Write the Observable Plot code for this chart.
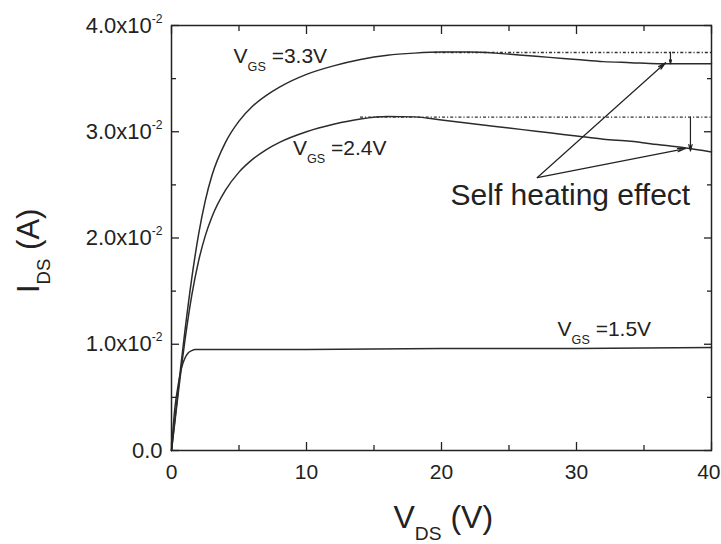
<!DOCTYPE html>
<html><head><meta charset="utf-8">
<script src="https://cdn.jsdelivr.net/npm/d3@7"></script>
<script src="https://cdn.jsdelivr.net/npm/@observablehq/plot@0.6"></script>
<style>
html,body{margin:0;padding:0;background:#fff;}
svg{display:block;}
</style></head><body><div id="chart"></div>
<script>
// ---- data ----
const vds = [0, 0.25, 0.5, 0.75, 1, 1.5, 2, 2.5, 3, 4, 5, 6, 7, 8, 10, 12, 14, 16, 18, 20, 22, 24, 26, 28, 30, 32, 34, 36, 38, 40];
const ids33 = [0, 0.0029, 0.0058, 0.0086, 0.0113, 0.0162, 0.0203, 0.0235, 0.0259, 0.0290, 0.0310, 0.0324, 0.0334, 0.0342, 0.0354, 0.0362, 0.0368, 0.0372, 0.0374, 0.0375, 0.0375, 0.0374, 0.0372, 0.0370, 0.0368, 0.0366, 0.0365, 0.0364, 0.0364, 0.0364];
const ids24 = [0, 0.0027, 0.0054, 0.0080, 0.0104, 0.0146, 0.0178, 0.0202, 0.0220, 0.0245, 0.0262, 0.0274, 0.0283, 0.0290, 0.0300, 0.0307, 0.0312, 0.03143, 0.0314, 0.0311, 0.0308, 0.0305, 0.0302, 0.0299, 0.0296, 0.0293, 0.0291, 0.0288, 0.0285, 0.0281];
const vds15 = [0, 0.1, 0.25, 0.5, 0.75, 1, 1.25, 1.5, 1.75, 2, 2.5, 3, 5, 10, 20, 30, 40];
const ids15 = [0, 0.0018, 0.0040, 0.0062, 0.0078, 0.0087, 0.0092, 0.0094, 0.0095, 0.0095, 0.0095, 0.0095, 0.0095, 0.0095, 0.0096, 0.0096, 0.0097];

const curveLabels = ["V_{GS} =3.3V", "V_{GS} =2.4V", "V_{GS} =1.5V"];
const curveLabelX = [4.6, 9.0, 28.6];
const curveLabelY = [0.0365, 0.0278, 0.0108];

const peakLevel = [0.03746, 0.03137];
const peakStart = [19.5, 14.0];
const peakEnd = [40, 40];

const dropX = [36.96, 38.44];
const dropTop = [0.0375, 0.03137];
const dropBottom = [0.0364, 0.0282];

const noteText = ["Self heating effect"];
const noteX = [20.67];
const noteY = [0.02315];
const noteArrowFromX = [27.1, 27.1];
const noteArrowFromY = [0.02569, 0.02569];
const noteArrowToX = [36.6, 38.07];
const noteArrowToY = [0.0365, 0.02842];

const xMajor = [0, 10, 20, 30, 40];
const xMinor = [5, 15, 25, 35];
const xTickLabels = ["0", "10", "20", "30", "40"];
const yMajor = [0, 0.01, 0.02, 0.03, 0.04];
const yMinor = [0.005, 0.015, 0.025, 0.035];
const yTickLabels = ["0.0", "1.0x10^{-2}", "2.0x10^{-2}", "3.0x10^{-2}", "4.0x10^{-2}"];
const xTitle = "V_{DS} (V)";
const yTitle = "I_{DS} (A)";

// ---- tables built from the arrays ----
const s33 = vds.map((v, k) => ({v, i: ids33[k]}));
const s24 = vds.map((v, k) => ({v, i: ids24[k]}));
const s15 = vds15.map((v, k) => ({v, i: ids15[k]}));
const labels = curveLabels.map((t, k) => ({t, x: curveLabelX[k], y: curveLabelY[k]}));
const peaks = peakLevel.map((y, k) => ({y, x1: peakStart[k], x2: peakEnd[k]}));
const drops = dropX.map((x, k) => ({x, y1: dropTop[k], y2: dropBottom[k]}));
const noteArrows = noteArrowFromX.map((x1, k) => ({x1, y1: noteArrowFromY[k], x2: noteArrowToX[k], y2: noteArrowToY[k]}));
const notes = noteText.map((t, k) => ({t, x: noteX[k], y: noteY[k]}));
const xLabelRows = xMajor.map((x, k) => ({x, t: xTickLabels[k]}));
const xLabelsInner = xLabelRows.slice(0, -1);
const xLabelsLast = xLabelRows.slice(-1);

const ink = "#222";
const lineInk = "#2b2b2b";

const chart = Plot.plot({
  width: 721, height: 544,
  marginLeft: 171, marginRight: 10, marginTop: 25, marginBottom: 94,
  style: {fontFamily: "'Liberation Sans', Arial, Helvetica, sans-serif", background: "#fff", color: ink},
  x: {domain: [0, 40]},
  y: {domain: [0, 0.04]},
  marks: [
    // dotted reference lines at peak currents
    Plot.ruleY(peaks, {y: "y", x1: "x1", x2: "x2", stroke: "#333", strokeWidth: 1.3, strokeDasharray: "3,2,1.2,2"}),
    // curves
    Plot.line(s33, {x: "v", y: "i", curve: "monotone-x", stroke: lineInk, strokeWidth: 1.5}),
    Plot.line(s24, {x: "v", y: "i", curve: "monotone-x", stroke: lineInk, strokeWidth: 1.5}),
    Plot.line(s15, {x: "v", y: "i", curve: "monotone-x", stroke: lineInk, strokeWidth: 1.5}),
    // arrows
    Plot.arrow(drops, {x1: "x", y1: "y1", x2: "x", y2: "y2", stroke: ink, strokeWidth: 1.2, headLength: 8, headAngle: 30}),
    Plot.arrow(noteArrows, {x1: "x1", y1: "y1", x2: "x2", y2: "y2", stroke: ink, strokeWidth: 1.2, headLength: 10, headAngle: 25}),
    // frame and inward ticks
    Plot.frame({stroke: ink, strokeWidth: 1.5}),
    Plot.axisX(xMajor, {anchor: "bottom", tickSize: -8, fill: "none", label: null, stroke: ink, strokeWidth: 1.3}),
    Plot.axisX(xMinor, {anchor: "bottom", tickSize: -5, fill: "none", label: null, stroke: ink, strokeWidth: 1.3}),
    Plot.axisX(xMajor, {anchor: "top", tickSize: -8, fill: "none", label: null, stroke: ink, strokeWidth: 1.3}),
    Plot.axisX(xMinor, {anchor: "top", tickSize: -5, fill: "none", label: null, stroke: ink, strokeWidth: 1.3}),
    Plot.axisY(yMajor, {anchor: "left", tickSize: -8, fill: "none", label: null, stroke: ink, strokeWidth: 1.3}),
    Plot.axisY(yMinor, {anchor: "left", tickSize: -5, fill: "none", label: null, stroke: ink, strokeWidth: 1.3}),
    Plot.axisY(yMajor, {anchor: "right", tickSize: -8, fill: "none", label: null, stroke: ink, strokeWidth: 1.3}),
    Plot.axisY(yMinor, {anchor: "right", tickSize: -5, fill: "none", label: null, stroke: ink, strokeWidth: 1.3}),
    // tick labels
    Plot.text(xLabelsInner, {x: "x", text: "t", frameAnchor: "bottom", dy: 28, lineAnchor: "bottom", fontSize: 21, fill: ink}),
    Plot.text(xLabelsLast, {x: "x", text: "t", frameAnchor: "bottom", dy: 28, dx: 9, textAnchor: "end", lineAnchor: "bottom", fontSize: 21, fill: ink}),
    Plot.text(yMajor, {y: d => d, frameAnchor: "left", dx: -9, textAnchor: "end", lineAnchor: "middle", text: (d, k) => yTickLabels[k], fontSize: 22, fill: ink}),
    // axis titles
    Plot.text([xTitle], {frameAnchor: "bottom", dx: -48, dy: 77, textAnchor: "start", lineAnchor: "bottom", text: d => d, fontSize: 32, fill: ink}),
    Plot.text([yTitle], {frameAnchor: "left", dx: -133, dy: 55, rotate: -90, textAnchor: "start", lineAnchor: "bottom", text: d => d, fontSize: 31, fill: ink}),
    // curve labels and annotation
    Plot.text(labels, {x: "x", y: "y", text: "t", textAnchor: "start", lineAnchor: "bottom", fontSize: 21, fill: ink}),
    Plot.text(notes, {x: "x", y: "y", text: "t", textAnchor: "start", lineAnchor: "bottom", fontSize: 30, fill: ink})
  ]
});

document.getElementById("chart").appendChild(chart);

// turn _{..} and ^{..} markup into real subscript / superscript tspans
chart.querySelectorAll("text").forEach(t => {
  const s = t.textContent;
  if (!/[_^]\{/.test(s)) return;
  const base = parseFloat(getComputedStyle(t).fontSize) || 16;
  while (t.firstChild) t.removeChild(t.firstChild);
  const re = /([_^])\{([^}]*)\}/g;
  let last = 0, m, pending = 0;
  const ns = "http://www.w3.org/2000/svg";
  const add = (str, opts) => {
    if (!str) return;
    const ts = document.createElementNS(ns, "tspan");
    ts.textContent = str;
    let dy = pending;
    if (opts) { dy += opts.shift; ts.setAttribute("font-size", opts.size); }
    if (dy) ts.setAttribute("dy", dy);
    pending = opts ? -opts.shift : 0;
    t.appendChild(ts);
  };
  while ((m = re.exec(s))) {
    add(s.slice(last, m.index));
    if (m[1] === "_") add(m[2], {shift: 0.38 * base, size: 0.6 * base});
    else add(m[2], {shift: -0.45 * base, size: 0.55 * base});
    last = re.lastIndex;
  }
  add(s.slice(last));
});
</script>
</body></html>
